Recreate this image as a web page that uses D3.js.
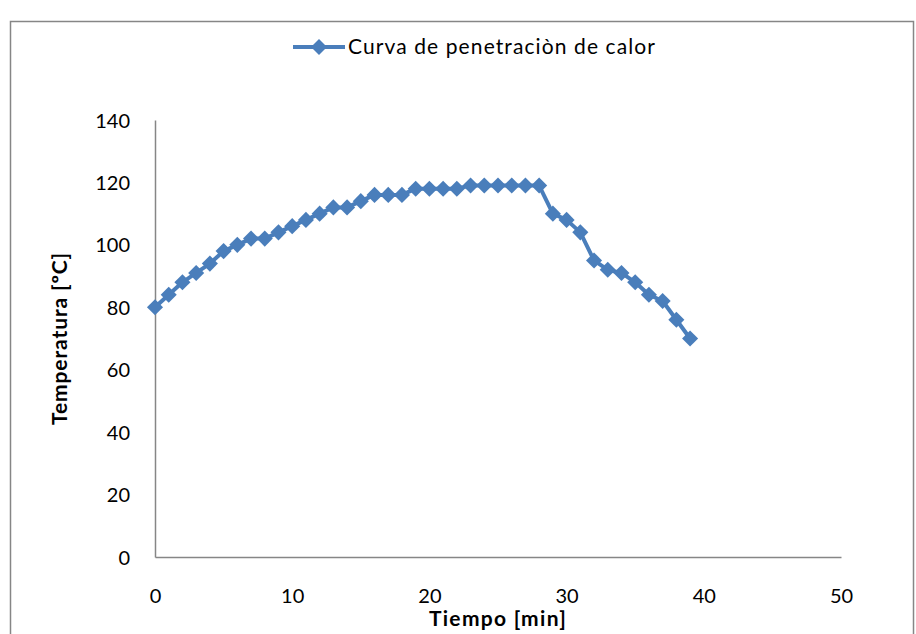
<!DOCTYPE html>
<html>
<head>
<meta charset="utf-8">
<script src="https://cdn.jsdelivr.net/npm/d3@7"></script>
<style>
  body { margin: 0; background: #fff; }
  svg text { font-family: Lato, "Open Sans", sans-serif; fill: #000; }
</style>
</head>
<body>
<svg id="chart" width="916" height="634"></svg>
<script>
// data
var tiempo = [0, 1, 2, 3, 4, 5, 6, 7, 8, 9, 10, 11, 12, 13, 14, 15, 16, 17, 18, 19,
              20, 21, 22, 23, 24, 25, 26, 27, 28, 29, 30, 31, 32, 33, 34, 35, 36, 37, 38, 39];
var temperatura = [80, 84, 88, 91, 94, 98, 100, 102, 102, 104, 106, 108, 110, 112, 112, 114, 116, 116, 116, 118,
                   118, 118, 118, 119, 119, 119, 119, 119, 119, 110, 108, 104, 95, 92, 91, 88, 84, 82, 76, 70];
var xTicks = [0, 10, 20, 30, 40, 50];
var yTicks = [0, 20, 40, 60, 80, 100, 120, 140];
var serieName = "Curva de penetraciòn de calor";

var blue = "#4a7ebb";
var grey = "#868686";

var svg = d3.select("#chart");

// chart frame
svg.append("rect")
    .attr("x", 10.5)
    .attr("y", 21.5)
    .attr("width", 903)
    .attr("height", 640)
    .attr("fill", "none")
    .attr("stroke", grey)
    .attr("stroke-width", 1.5);

var padding = { t: 120, l: 155, r: 75, b: 77 };
var plotW = 916 - padding.l - padding.r;
var plotH = 634 - padding.t - padding.b;

var xScale = d3.scaleLinear().domain([0, 50]).range([0, plotW]);
var yScale = d3.scaleLinear().domain([0, 140]).range([plotH, 0]);

var g = svg.append("g")
    .attr("transform", `translate(${padding.l},${padding.t})`);

// axes (no tick marks, like the original)
var xAxis = d3.axisBottom(xScale).tickValues(xTicks).tickSize(0).tickPadding(32);
var yAxis = d3.axisLeft(yScale).tickValues(yTicks).tickSize(0).tickPadding(25);

g.append("g")
    .attr("class", "x axis")
    .attr("transform", `translate(0,${plotH})`)
    .call(xAxis);

g.append("g")
    .attr("class", "y axis")
    .call(yAxis);

g.selectAll(".axis path").attr("stroke", grey).attr("stroke-width", 1.5);
g.selectAll(".axis text")
    .style("font-family", "Lato, sans-serif")
    .style("font-size", "20px")
    .attr("fill", "#000");
g.selectAll(".y.axis text").attr("dy", "0.35em");

// line
var line = d3.line()
    .x((d, i) => xScale(tiempo[i]))
    .y(d => yScale(d));

g.append("path")
    .datum(temperatura)
    .attr("fill", "none")
    .attr("stroke", blue)
    .attr("stroke-width", 4)
    .attr("stroke-linejoin", "round")
    .attr("d", line);

var diamond = d3.symbol().type(d3.symbolDiamond2).size(165);

g.selectAll(".marker")
    .data(temperatura)
    .enter()
    .append("path")
    .attr("class", "marker")
    .attr("d", diamond)
    .attr("fill", blue)
    .attr("transform", (d, i) => `translate(${xScale(tiempo[i])},${yScale(d)})`);

// axis titles
svg.append("text")
    .attr("x", padding.l + xScale(25))
    .attr("y", 626)
    .attr("text-anchor", "middle")
    .style("font-size", "21px")
    .style("font-weight", "bold")
    .style("letter-spacing", "1.3px")
    .text("Tiempo [min]");

svg.append("text")
    .attr("transform", "translate(67," + (padding.t + yScale(70)) + ") rotate(-90)")
    .attr("text-anchor", "middle")
    .style("font-size", "21px")
    .style("font-weight", "bold")
    .style("letter-spacing", "0.9px")
    .text("Temperatura [ºC]");

// legend
var legend = svg.append("g").attr("transform", "translate(293,47)");
legend.append("line")
    .attr("x1", 0).attr("x2", 52)
    .attr("y1", 0).attr("y2", 0)
    .attr("stroke", blue)
    .attr("stroke-width", 4);
legend.append("path")
    .attr("d", diamond)
    .attr("fill", blue)
    .attr("transform", "translate(26,0)");
legend.append("text")
    .attr("x", 55)
    .attr("y", 0)
    .attr("dy", "0.35em")
    .style("font-size", "21px")
    .style("letter-spacing", "1.1px")
    .text(serieName);
</script>
</body>
</html>
